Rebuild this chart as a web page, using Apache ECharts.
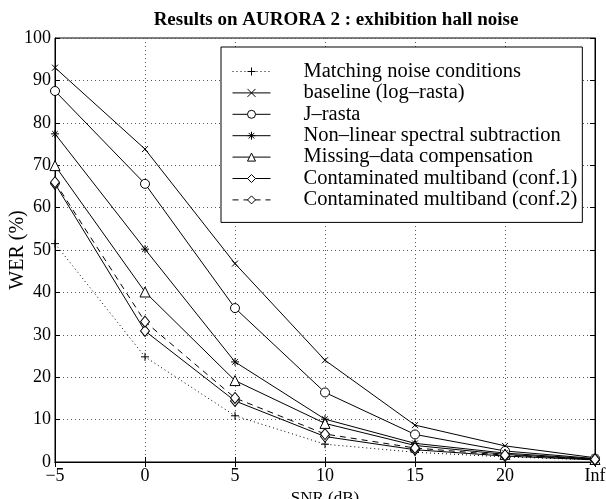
<!DOCTYPE html>
<html>
<head>
<meta charset="utf-8">
<script src="https://cdn.jsdelivr.net/npm/echarts@6/dist/echarts.min.js"></script>
<style>
  html, body { margin: 0; padding: 0; background: #fff; }
  #chart { width: 606px; height: 499px; }
</style>
</head>
<body>
<div id="chart"></div>
<script>
// x categories (SNR in dB)
const snr = ['\u22125', '0', '5', '10', '15', '20', 'Inf'];
const yTicks = [0, 10, 20, 30, 40, 50, 60, 70, 80, 90, 100];

// WER (%) per system
const matching = [51.5, 24.8, 10.9, 4.2, 2.3, 1.2, 0.5];
const baseline = [93.0, 73.8, 46.8, 24.0, 8.7, 3.8, 1.0];
const jrasta   = [87.5, 65.6, 36.3, 16.4, 6.5, 2.6, 0.8];
const nlss     = [77.4, 50.2, 23.6, 10.1, 4.4, 2.1, 0.7];
const mdc      = [69.9, 40.1, 19.2, 9.1, 3.9, 1.8, 0.6];
const cm1      = [65.6, 30.9, 14.4, 6.0, 2.9, 1.4, 0.5];
const cm2      = [66.0, 33.1, 15.1, 6.6, 3.3, 1.6, 0.6];

const names = [
  'Matching noise conditions',
  'baseline (log\u2013rasta)',
  'J\u2013rasta',
  'Non\u2013linear spectral subtraction',
  'Missing\u2013data compensation',
  'Contaminated multiband (conf.1)',
  'Contaminated multiband (conf.2)'
];

const PLUS = 'path://M5,0L5,10M0,5L10,5';
const CROSS = 'path://M0,0L10,10M10,0L0,10';
const STAR = 'path://M5,0L5,10M0,5L10,5M1.5,1.5L8.5,8.5M8.5,1.5L1.5,8.5';
const font = 'Liberation Serif';

function mk(name, data, symbol, size, lineType) {
  return {
    name: name,
    type: 'line',
    data: data,
    symbol: symbol,
    symbolSize: size,
    showAllSymbol: true,
    lineStyle: { color: '#000', width: 1, type: lineType || 'solid' },
    itemStyle: { color: symbol.indexOf('path') === 0 ? 'none' : '#fff', borderColor: '#000', borderWidth: 1 },
    emphasis: { disabled: true },
    animation: false,
    z: 3
  };
}

const chart = echarts.init(document.getElementById('chart'));
chart.setOption({
  animation: false,
  backgroundColor: '#fff',
  title: {
    text: 'Results on AURORA 2 : exhibition hall noise',
    left: 331, textAlign: 'center', top: 6,
    textStyle: { fontFamily: font, fontSize: 19, fontWeight: 'bold', color: '#000' }
  },
  grid: { left: 55, right: 11, top: 38, bottom: 37, show: true, borderColor: '#000', borderWidth: 1,
    outerBoundsMode: 'none' },
  legend: {
    left: 221, top: 47,
    orient: 'vertical',
    backgroundColor: '#fff',
    borderColor: '#000', borderWidth: 1,
    padding: [14, 5, 12, 11],
    itemWidth: 38, itemHeight: 10, itemGap: 0.4,
    lineStyle: { width: 1 },
    itemStyle: { borderWidth: 1 },
    textStyle: { fontFamily: font, fontSize: 20.5, lineHeight: 21, color: '#000', padding: [0, 0, 0, 28] },
    selectedMode: false,
    data: names
  },
  xAxis: [{
    type: 'category', data: snr, boundaryGap: false,
    name: 'SNR (dB)', nameLocation: 'middle', nameGap: 28, nameMoveOverlap: false,
    nameTextStyle: { fontFamily: font, fontSize: 17, color: '#000' },
    axisLine: { lineStyle: { color: '#000', width: 1 } },
    axisTick: { inside: true, length: 5, lineStyle: { color: '#000' } },
    axisLabel: { fontFamily: font, fontSize: 18, color: '#000', margin: 5 },
    splitLine: { show: true, lineStyle: { color: '#555', type: [1, 3], width: 1 } }
  }, {
    type: 'category', data: snr, boundaryGap: false, position: 'top',
    axisLine: { lineStyle: { color: '#000' } },
    axisTick: { inside: true, length: 5, lineStyle: { color: '#000' } },
    axisLabel: { show: false }, splitLine: { show: false }
  }],
  yAxis: [{
    type: 'value', min: 0, max: 100, interval: 10,
    name: 'WER (%)', nameLocation: 'middle', nameGap: 27, nameMoveOverlap: false,
    nameTextStyle: { fontFamily: font, fontSize: 20, color: '#000' },
    axisLine: { show: true, lineStyle: { color: '#000' } },
    axisTick: { show: true, inside: true, length: 5, lineStyle: { color: '#000' } },
    axisLabel: { fontFamily: font, fontSize: 18, color: '#000', margin: 4,
      formatter: v => yTicks.indexOf(v) >= 0 ? String(v) : '' },
    splitLine: { show: true, lineStyle: { color: '#555', type: [1, 3], width: 1 } }
  }, {
    type: 'value', min: 0, max: 100, interval: 10, position: 'right',
    axisLine: { show: true, lineStyle: { color: '#000' } },
    axisTick: { show: true, inside: true, length: 5, lineStyle: { color: '#000' } },
    axisLabel: { show: false }, splitLine: { show: false }
  }],
  series: [
    mk(names[0], matching, PLUS, 8, [1, 3]),
    mk(names[1], baseline, CROSS, 6),
    mk(names[2], jrasta, 'circle', 9),
    mk(names[3], nlss, STAR, 8),
    mk(names[4], mdc, 'triangle', 10),
    mk(names[5], cm1, 'diamond', [9, 11]),
    mk(names[6], cm2, 'diamond', [9, 11], [6, 5])
  ]
});
</script>
</body>
</html>
